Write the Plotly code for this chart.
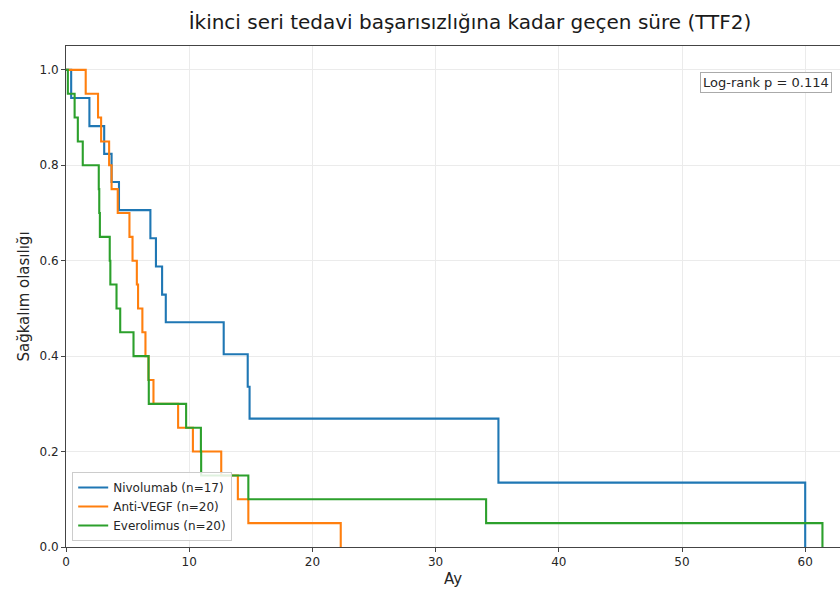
import plotly.graph_objects as go

# Kaplan-Meier step points (months, survival probability) per treatment arm
nivo_time = [0, 0.42, 1.9, 3.1, 3.7, 4.3, 6.85, 7.3, 7.8, 8.1, 12.8, 14.75, 14.9, 35.1, 60.0]
nivo_surv = [1.0, 0.941, 0.882, 0.824, 0.765, 0.706, 0.647, 0.588, 0.529, 0.471, 0.404, 0.336, 0.269, 0.135, 0.0]

vegf_time = [0, 1.6, 2.6, 2.85, 3.5, 3.7, 4.2, 5.15, 5.4, 5.75, 5.85, 6.2, 6.45, 6.7, 7.1,
             9.1, 10.3, 12.6, 13.95, 14.8, 22.3]
vegf_surv = [1.0, 0.95, 0.90, 0.85, 0.80, 0.75, 0.70, 0.65, 0.60, 0.55, 0.50, 0.45, 0.40, 0.35, 0.30,
             0.25, 0.20, 0.15, 0.10, 0.05, 0.0]

ever_time = [0, 0.15, 0.7, 0.96, 1.36, 2.66, 2.7, 2.75, 3.55, 3.6, 4.1, 4.4, 5.48, 6.7, 6.72,
             9.75, 10.95, 10.97, 14.8, 34.1, 61.4]
ever_surv = [1.0, 0.95, 0.90, 0.85, 0.80, 0.75, 0.70, 0.65, 0.60, 0.55, 0.50, 0.45, 0.40, 0.35, 0.30,
             0.25, 0.20, 0.15, 0.10, 0.05, 0.0]

series = [
    ("Nivolumab (n=17)", nivo_time, nivo_surv, "#1f77b4"),
    ("Anti-VEGF (n=20)", vegf_time, vegf_surv, "#ff7f0e"),
    ("Everolimus (n=20)", ever_time, ever_surv, "#2ca02c"),
]

title_text = "İkinci seri tedavi başarısızlığına kadar geçen süre (TTF2)"
x_label = "Ay"
y_label = "Sağkalım olasılığı"
pvalue_text = "Log-rank p = 0.114"

x_ticks = [0, 10, 20, 30, 40, 50, 60]
y_ticks = [0.0, 0.2, 0.4, 0.6, 0.8, 1.0]

FONT = "DejaVu Sans"
W, H = 840, 596
L, T, B = 66, 46, 49

fig = go.Figure()
for name, t, s, color in series:
    fig.add_trace(go.Scatter(
        x=t, y=s, name=name, mode="lines",
        line=dict(color=color, width=2.1, shape="hv"),
    ))

fig.update_layout(
    width=W, height=H,
    margin=dict(l=L, r=0, t=T, b=B),
    paper_bgcolor="white", plot_bgcolor="white",
    font=dict(family=FONT, size=12, color="#262626"),
    title=dict(text=title_text, x=470 / W, xanchor="center", xref="container",
               y=1 - 22 / H, yanchor="middle", font=dict(size=20, color="#1a1a1a")),
    showlegend=True,
    legend=dict(
        x=0.008, y=0.012, xanchor="left", yanchor="bottom",
        bgcolor="rgba(255,255,255,0.85)", bordercolor="#cccccc", borderwidth=1,
        font=dict(size=12, color="#262626"), tracegroupgap=0,
    ),
)

fig.update_xaxes(
    range=[0, (W - L) / 12.32], tickvals=x_ticks, ticktext=[str(v) for v in x_ticks],
    showgrid=True, gridcolor="#ebebeb", gridwidth=1,
    showline=True, linecolor="#444444", linewidth=1, mirror=True,
    ticks="outside", ticklen=4, tickcolor="#444444", zeroline=False,
    title=dict(text=x_label, standoff=5, font=dict(size=15)),
    tickfont=dict(size=12),
)
fig.update_yaxes(
    range=[0, 1.05], tickvals=y_ticks, ticktext=[f"{v:.1f}" for v in y_ticks],
    showgrid=True, gridcolor="#ebebeb", gridwidth=1,
    showline=True, linecolor="#444444", linewidth=1,
    ticks="outside", ticklen=4, tickcolor="#444444", zeroline=False,
    title=dict(text=y_label, standoff=6, font=dict(size=15)),
    tickfont=dict(size=12),
)

fig.add_annotation(
    text=pvalue_text, xref="paper", yref="paper",
    x=(832 - L) / (W - L), y=(547 - 82) / (H - T - B),
    xanchor="right", yanchor="middle", showarrow=False,
    font=dict(size=13, color="#262626"),
    bgcolor="white", bordercolor="#aaaaaa", borderwidth=1, borderpad=2,
)

fig.write_html("out.html")
